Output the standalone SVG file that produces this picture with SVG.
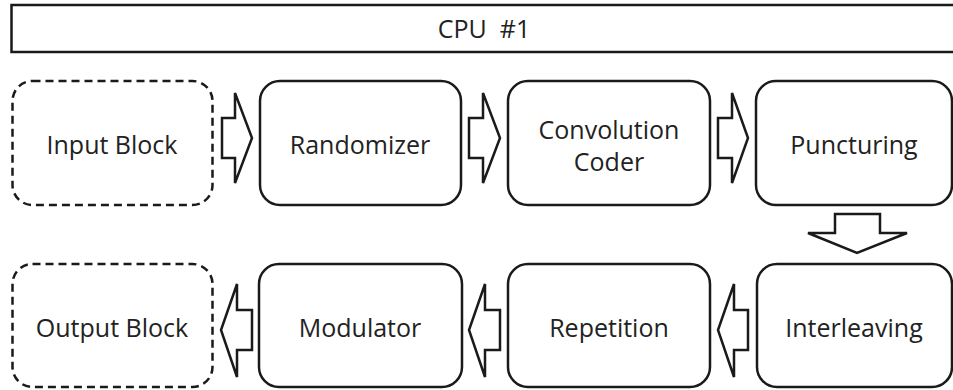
<svg xmlns="http://www.w3.org/2000/svg" width="953" height="390" viewBox="0 0 953 390">
<style>
.box{fill:#fff;stroke:#1a1a1a;stroke-width:2.5}
.dash{fill:#fff;stroke:#1a1a1a;stroke-width:2.5;stroke-dasharray:8 5}
.arr{fill:#fff;stroke:#1a1a1a;stroke-width:2.5;stroke-linejoin:miter}
.t{font-family:"Open Sans","Noto Sans",sans-serif;font-size:25px;fill:#222;text-anchor:middle;white-space:pre}
</style>
<rect width="953" height="390" fill="#fff"/>
<g id="cpu">
<rect class="box" x="11.5" y="5" width="960" height="47"/>
<text class="t" x="484" y="38" xml:space="preserve">CPU  #1</text>
</g>
<g id="input-block">
<rect class="dash" x="12.5" y="81" width="200" height="124" rx="20"/>
<text class="t" x="112" y="154">Input Block</text>
</g>
<g id="randomizer">
<rect class="box" x="260" y="81" width="201" height="124" rx="20"/>
<text class="t" x="360" y="154">Randomizer</text>
</g>
<g id="convolution-coder">
<rect class="box" x="508" y="81" width="202" height="124" rx="20"/>
<text class="t" x="609" y="139">Convolution</text>
<text class="t" x="609" y="171">Coder</text>
</g>
<g id="puncturing">
<rect class="box" x="756" y="81" width="196" height="124" rx="20"/>
<text class="t" x="854" y="154">Puncturing</text>
</g>
<g id="interleaving">
<rect class="box" x="757" y="264" width="195" height="123" rx="20"/>
<text class="t" x="854" y="337">Interleaving</text>
</g>
<g id="repetition">
<rect class="box" x="508" y="264" width="202" height="123" rx="20"/>
<text class="t" x="609" y="337">Repetition</text>
</g>
<g id="modulator">
<rect class="box" x="259" y="264" width="203" height="123" rx="20"/>
<text class="t" x="360" y="337">Modulator</text>
</g>
<g id="output-block">
<rect class="dash" x="12.5" y="264" width="200" height="123" rx="20"/>
<text class="t" x="112" y="337">Output Block</text>
</g>
<g id="connectors">
<polygon class="arr" points="222,118 235,118 235,93 252,138 235,183 235,158 222,158"/>
<polygon class="arr" points="469,118 483,118 483,93 500,138 483,183 483,158 469,158"/>
<polygon class="arr" points="718,118 732,118 732,93 748,138 732,183 732,158 718,158"/>
<polygon class="arr" points="835,214 880,214 880,233 907,233 857,253 808,233 835,233"/>
<polygon class="arr" points="748,310 734,310 734,284 718,330 734,377 734,350 748,350"/>
<polygon class="arr" points="500,310 485,310 485,284 469,330 485,377 485,350 500,350"/>
<polygon class="arr" points="252,310 237,310 237,284 221,330 237,377 237,350 252,350"/>
</g>
</svg>
